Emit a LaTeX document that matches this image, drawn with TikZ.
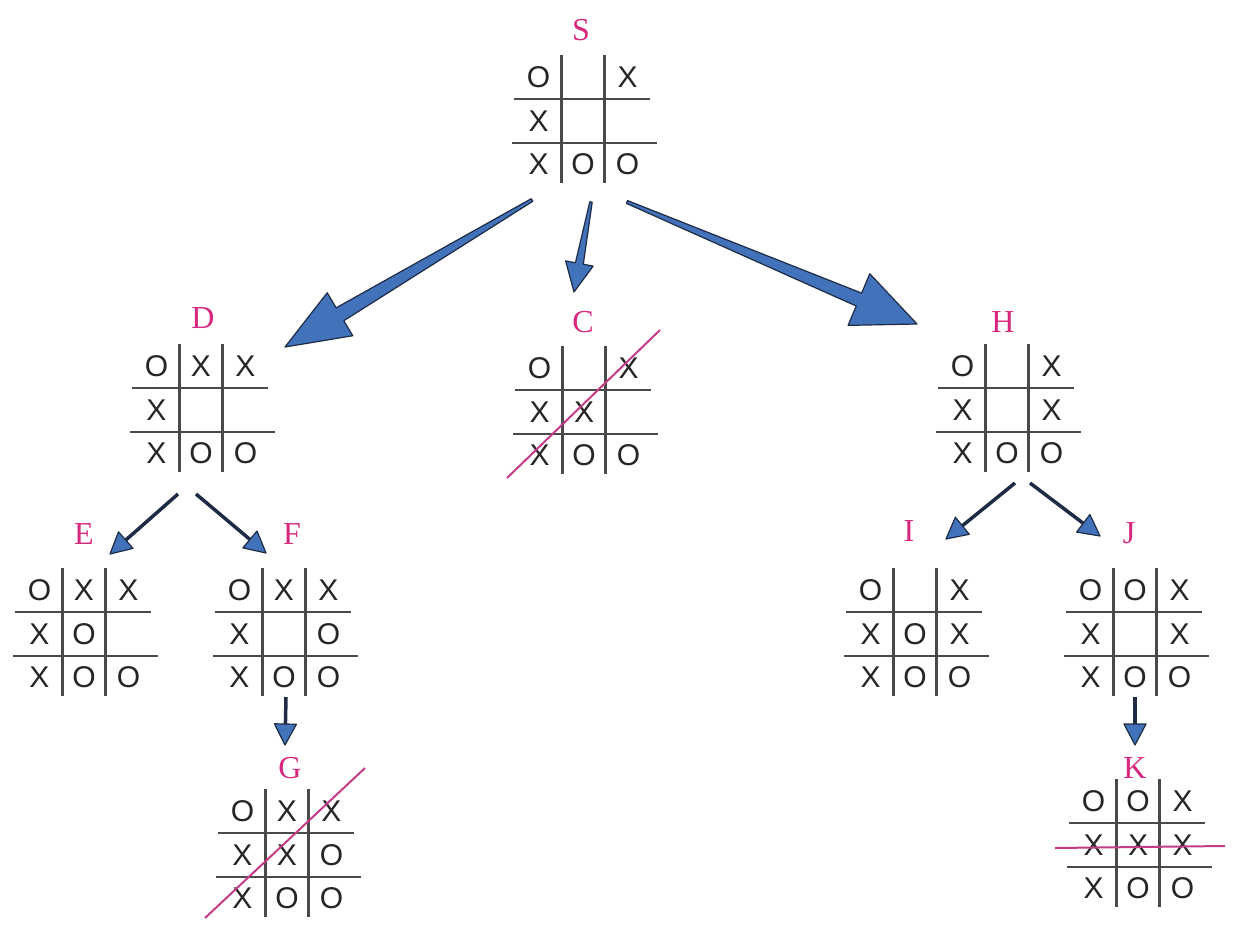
\documentclass[tikz,border=0pt]{standalone}
\usepackage{fontspec}
\setmainfont{Liberation Serif}
\newfontfamily\cellfont{Liberation Sans}
\usetikzlibrary{calc}
\definecolor{lab}{HTML}{D6287F}
\definecolor{gridc}{HTML}{4A4A4A}
\definecolor{arrfill}{HTML}{4273BA}
\definecolor{arrline}{HTML}{1E2B45}
\definecolor{cross}{HTML}{C43C85}
\tikzset{
  gridline/.style={draw=gridc, line width=2.6pt},
  cell/.style={font=\cellfont\fontsize{30}{30}\selectfont, text=black!85, inner sep=0pt},
  lbl/.style={font=\fontsize{32}{32}\selectfont, text=lab, inner sep=0pt},
  crossline/.style={draw=cross, line width=2pt},
  fatarrowstyle/.style={fill=arrfill, draw=arrline, line width=1.2pt, line join=round},
  thinshaft/.style={draw=arrline, line width=3.5pt},
  boardbox/.style={minimum width=150pt, minimum height=130pt, inner sep=0pt}
}
\newcommand\tttboard[4]{%
  \node[boardbox] (#1) at (#2,#3) {};
  \draw[gridline] (#2-21.5,#3-66) -- (#2-21.5,#3+62);
  \draw[gridline] (#2+21.5,#3-66) -- (#2+21.5,#3+62);
  \draw[gridline] (#2-69,#3-22) -- (#2+67,#3-22);
  \draw[gridline] (#2-71,#3+22) -- (#2+74,#3+22);
  \foreach \c [count=\i from 0] in {#4} {%
    \ifx\c\empty\else
      \pgfmathtruncatemacro\col{mod(\i,3)}%
      \pgfmathtruncatemacro\row{div(\i,3)}%
      \node[cell] (#1-\i) at ({#2+(\col-1)*44.5},{#3+(\row-1)*43.5}) {\c};
    \fi
  }%
}
\newcommand\fatarrow[6]{%
  \coordinate (hb) at ($(#2)!#5!(#1)$);
  \filldraw[fatarrowstyle] ($(#1)!#3!90:(#2)$) -- ($(hb)!#4!90:(#2)$) -- ($(hb)!#6!90:(#2)$) -- (#2)
     -- ($(hb)!#6!-90:(#2)$) -- ($(hb)!#4!-90:(#2)$) -- ($(#1)!#3!-90:(#2)$) -- cycle;
}
\newcommand\smallarrow[2]{%
  \coordinate (hb) at ($(#2)!21pt!(#1)$);
  \draw[thinshaft] (#1) -- (hb);
  \filldraw[fatarrowstyle] ($(hb)!11pt!90:(#2)$) -- (#2) -- ($(hb)!11pt!-90:(#2)$) -- cycle;
}
\begin{document}
\begin{tikzpicture}[x=1pt,y=-1pt]
\useasboundingbox[fill=white] (0,0) rectangle (1234,947);

% boards
\tttboard{S}{583}{121}{O,,X,X,,,X,O,O}
\tttboard{D}{201}{410}{O,X,X,X,,,X,O,O}
\tttboard{C}{584}{412}{O,,X,X,X,,X,O,O}
\tttboard{H}{1007}{410}{O,,X,X,,X,X,O,O}
\tttboard{E}{84}{634}{O,X,X,X,O,,X,O,O}
\tttboard{F}{284}{634}{O,X,X,X,,O,X,O,O}
\tttboard{G}{287}{855}{O,X,X,X,X,O,X,O,O}
\tttboard{I}{915}{634}{O,,X,X,O,X,X,O,O}
\tttboard{J}{1135}{634}{O,O,X,X,,X,X,O,O}
\tttboard{K}{1138}{845}{O,O,X,X,X,X,X,O,O}

% labels
\node[lbl] (lS) at (581,30) {S};
\node[lbl] (lD) at (203,318) {D};
\node[lbl] (lC) at (583,322) {C};
\node[lbl] (lH) at (1003,322) {H};
\node[lbl] (lE) at (84,534) {E};
\node[lbl] (lF) at (292,534) {F};
\node[lbl] (lG) at (290,768) {G};
\node[lbl] (lI) at (909,531) {I};
\node[lbl] (lJ) at (1129,533) {J};
\node[lbl] (lK) at (1135,768) {K};

% winning lines
\coordinate (c1) at (507,478); \coordinate (c2) at (660,330);
\draw[crossline] (c1) -- (c2);
\coordinate (g1) at (205,918); \coordinate (g2) at (365,768);
\draw[crossline] (g1) -- (g2);
\coordinate (k1) at (1055,848); \coordinate (k2) at (1225,846);
\draw[crossline] (k1) -- (k2);

% big arrows
\coordinate (SDt) at (532,200); \coordinate (SDh) at (285,347);
\fatarrow{SDt}{SDh}{1.5pt}{7.5pt}{64pt}{25pt}
\coordinate (SCt) at (591,202); \coordinate (SCh) at (574,292);
\fatarrow{SCt}{SCh}{1.2pt}{4pt}{29pt}{14pt}
\coordinate (SHt) at (627,202); \coordinate (SHh) at (917,324);
\fatarrow{SHt}{SHh}{1.5pt}{7pt}{63pt}{28pt}

% small arrows
\coordinate (DEt) at (178,494); \coordinate (DEh) at (110,554);
\smallarrow{DEt}{DEh}
\coordinate (DFt) at (196,494); \coordinate (DFh) at (266,553);
\smallarrow{DFt}{DFh}
\coordinate (FGt) at (286,697); \coordinate (FGh) at (285,745);
\smallarrow{FGt}{FGh}
\coordinate (HIt) at (1015,483); \coordinate (HIh) at (946,539);
\smallarrow{HIt}{HIh}
\coordinate (HJt) at (1030,483); \coordinate (HJh) at (1100,536);
\smallarrow{HJt}{HJh}
\coordinate (JKt) at (1135,697); \coordinate (JKh) at (1135,745);
\smallarrow{JKt}{JKh}
\end{tikzpicture}
\end{document}
